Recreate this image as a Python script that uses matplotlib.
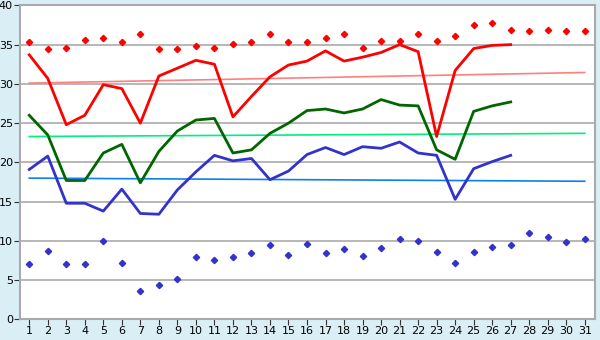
import matplotlib.pyplot as plt

# Days of the month
days = list(range(1, 32))
days_obs = list(range(1, 28))

# Daily observed values (27 days)
t_max = [33.7, 30.7, 24.8, 26.0, 29.9, 29.4, 25.0, 31.0, 32.0, 33.0,
         32.5, 25.8, 28.4, 30.9, 32.4, 32.9, 34.2, 32.9, 33.4, 34.0,
         35.0, 34.1, 23.3, 31.7, 34.5, 34.9, 35.0]
t_mean = [26.0, 23.5, 17.7, 17.7, 21.2, 22.3, 17.4, 21.4, 24.0, 25.4,
          25.6, 21.2, 21.6, 23.7, 25.0, 26.6, 26.8, 26.3, 26.8, 28.0,
          27.3, 27.2, 21.6, 20.4, 26.5, 27.2, 27.7]
t_min = [19.1, 20.8, 14.8, 14.8, 13.8, 16.6, 13.5, 13.4, 16.5, 18.8,
         20.9, 20.2, 20.5, 17.8, 18.9, 21.0, 21.9, 21.0, 22.0, 21.8,
         22.6, 21.2, 20.9, 15.3, 19.2, 20.1, 20.9]

# Record values for all 31 days
rec_high = [35.3, 34.4, 34.6, 35.6, 35.9, 35.3, 36.3, 34.5, 34.4, 34.8,
            34.6, 35.1, 35.3, 36.3, 35.3, 35.3, 35.9, 36.3, 34.6, 35.4,
            35.5, 36.4, 35.5, 36.1, 37.5, 37.7, 36.8, 36.7, 36.8, 36.7, 36.7]
rec_low = [7.1, 8.7, 7.1, 7.1, 10.0, 7.2, 3.6, 4.4, 5.2, 8.0,
           7.6, 8.0, 8.5, 9.5, 8.2, 9.6, 8.5, 9.0, 8.1, 9.1,
           10.25, 10.0, 8.6, 7.2, 8.6, 9.2, 9.5, 11.0, 10.5, 9.9, 10.25]

# Normal (trend) lines, start and end of month
trend_days = [1, 31]
norm_max = [30.1, 31.45]
norm_mean = [23.3, 23.7]
norm_min = [18.0, 17.6]

fig = plt.figure(figsize=(6, 3.4), dpi=100, facecolor='#DAEEF6')
ax = fig.add_axes([0.0333, 0.0603, 0.9583, 0.924])
ax.set_facecolor('white')

ax.plot(trend_days, norm_max, color='#FF8080', lw=1.2)
ax.plot(trend_days, norm_mean, color='#00F080', lw=1.2)
ax.plot(trend_days, norm_min, color='#0A80F0', lw=1.2)

ax.plot(days_obs, t_max, color='#FF0000', lw=2)
ax.plot(days_obs, t_mean, color='#006600', lw=2)
ax.plot(days_obs, t_min, color='#3333CC', lw=2)

ax.plot(days, rec_high, 'D', color='#FF0000', ms=3.2, ls='none')
ax.plot(days, rec_low, 'D', color='#3333CC', ms=3.2, ls='none')

ax.set_xlim(0.5, 31.55)
ax.set_ylim(0, 40)
ax.set_xticks(days)
ax.set_yticks(range(0, 41, 5))
ax.tick_params(axis='both', labelsize=8, color='#333333', length=4, pad=1)
ax.grid(axis='y', color='#AAAAAA', lw=1.2)
ax.set_axisbelow(True)
for s in ax.spines.values():
    s.set_color('#AAAAAA')
    s.set_linewidth(1.5)

fig.savefig('out.png', dpi=100, facecolor=fig.get_facecolor())
